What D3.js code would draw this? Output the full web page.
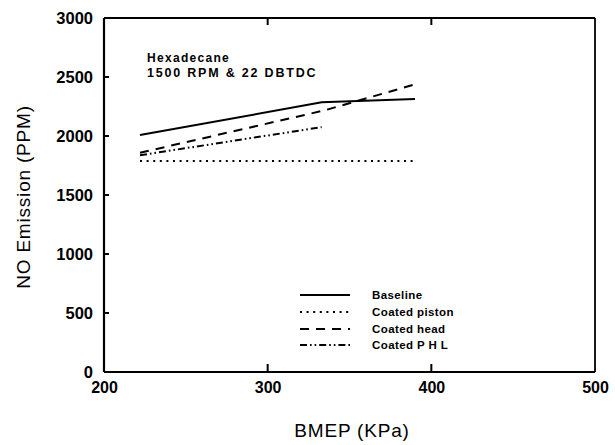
<!DOCTYPE html>
<html>
<head>
<meta charset="utf-8">
<script src="https://cdn.jsdelivr.net/npm/d3@7"></script>
<style>
  html, body { margin: 0; padding: 0; background: #fff; }
  svg { display: block; }
  text { font-family: "Liberation Sans", Arial, sans-serif; fill: #000; }
</style>
</head>
<body>
<svg id="chart" width="615" height="445"></svg>
<script>
// ---- data ----
const xTicks = [200, 300, 400, 500];
const yTicks = [0, 500, 1000, 1500, 2000, 2500, 3000];

const baselineX = [222, 333, 390];
const baselineY = [2008, 2285, 2313];

const pistonX = [222, 390];
const pistonY = [1788, 1788];

const headX = [222, 335, 390];
const headY = [1858, 2218, 2438];

const phlX = [222, 333];
const phlY = [1837, 2075];

const seriesNames = ["Baseline", "Coated piston", "Coated head", "Coated P H L"];
const seriesDash = ["none", "2,4.6", "9,7", "7,3,1.6,3,1.6,3"];

const xTitle = "BMEP (KPa)";
const yTitle = "NO Emission (PPM)";
const note1 = "Hexadecane";
const note2 = "1500 RPM & 22 DBTDC";

// ---- layout ----
const svg = d3.select("#chart");
const L = 104, R = 595, T = 18, B = 372;
const x = d3.scaleLinear().domain([200, 500]).range([L, R]);
const y = d3.scaleLinear().domain([0, 3000]).range([B, T]);

// frame
const g = svg.append("g");
g.append("line").attr("x1", L).attr("x2", R).attr("y1", B).attr("y2", B).attr("stroke", "#000").attr("stroke-width", 2.2);
g.append("line").attr("x1", L).attr("x2", L).attr("y1", T).attr("y2", B).attr("stroke", "#000").attr("stroke-width", 2.2);
g.append("line").attr("x1", L).attr("x2", R).attr("y1", T).attr("y2", T).attr("stroke", "#000").attr("stroke-width", 1.8);
g.append("line").attr("x1", R).attr("x2", R).attr("y1", T).attr("y2", B).attr("stroke", "#000").attr("stroke-width", 1.8);

// axes
const xAxis = d3.axisBottom(x).tickValues(xTicks).tickFormat(d3.format("d")).tickSize(0).tickPadding(14);
const gx = svg.append("g").attr("transform", `translate(0,${B})`).call(xAxis);
gx.select(".domain").remove();
gx.selectAll("text").attr("font-size", 16).attr("font-weight", "bold").attr("dy", "0.71em").attr("y", 10);

const yAxis = d3.axisLeft(y).tickValues(yTicks).tickFormat(d3.format("d")).tickSize(0).tickPadding(11);
const gy = svg.append("g").attr("transform", `translate(${L},0)`).call(yAxis);
gy.select(".domain").remove();
gy.selectAll("text").attr("font-size", 16.5).attr("font-weight", "bold");

// inward ticks
const innerX = xTicks.filter(v => v > 200 && v < 500);
svg.append("g").selectAll("line.bt").data(innerX).join("line")
  .attr("x1", d => x(d)).attr("x2", d => x(d)).attr("y1", B).attr("y2", B - 8)
  .attr("stroke", "#000").attr("stroke-width", 2);
svg.append("g").selectAll("line.tt").data(innerX).join("line")
  .attr("x1", d => x(d)).attr("x2", d => x(d)).attr("y1", T).attr("y2", T + 7)
  .attr("stroke", "#000").attr("stroke-width", 2);
svg.append("g").selectAll("line.lt").data(yTicks.filter(v => v > 0 && v < 3000)).join("line")
  .attr("x1", L).attr("x2", L + 5).attr("y1", d => y(d)).attr("y2", d => y(d))
  .attr("stroke", "#000").attr("stroke-width", 2);

// titles
svg.append("text").attr("x", 352).attr("y", 437).attr("text-anchor", "middle")
  .attr("font-size", 19).attr("letter-spacing", 0.8).text(xTitle);
svg.append("text").attr("transform", "translate(30,197) rotate(-90)").attr("text-anchor", "middle")
  .attr("font-size", 19).attr("letter-spacing", 0.8).text(yTitle);

// annotation
svg.append("text").attr("x", 147).attr("y", 62).attr("font-size", 12).attr("font-weight", "bold")
  .attr("letter-spacing", 1.3).text(note1);
svg.append("text").attr("x", 147).attr("y", 77).attr("font-size", 12.5).attr("font-weight", "bold")
  .attr("letter-spacing", 1.8).text(note2);

// series
const series = [
  { xs: baselineX, ys: baselineY },
  { xs: pistonX, ys: pistonY },
  { xs: headX, ys: headY },
  { xs: phlX, ys: phlY }
];
const line = d3.line().x(d => x(d[0])).y(d => y(d[1]));
series.forEach((s, i) => {
  const pts = s.xs.map((v, k) => [v, s.ys[k]]);
  svg.append("path").datum(pts).attr("d", line).attr("fill", "none")
    .attr("stroke", "#000").attr("stroke-width", 2)
    .attr("stroke-dasharray", seriesDash[i]);
});

// legend
const legY = [295, 312, 329, 345];
const lg = svg.append("g");
seriesNames.forEach((name, i) => {
  lg.append("line").attr("x1", 300).attr("x2", 350).attr("y1", legY[i]).attr("y2", legY[i])
    .attr("stroke", "#000").attr("stroke-width", 2).attr("stroke-dasharray", seriesDash[i]);
  lg.append("text").attr("x", 372).attr("y", legY[i] + 4).attr("font-size", 11.5)
    .attr("font-weight", "bold").attr("letter-spacing", 0.4).text(name);
});
</script>
</body>
</html>
